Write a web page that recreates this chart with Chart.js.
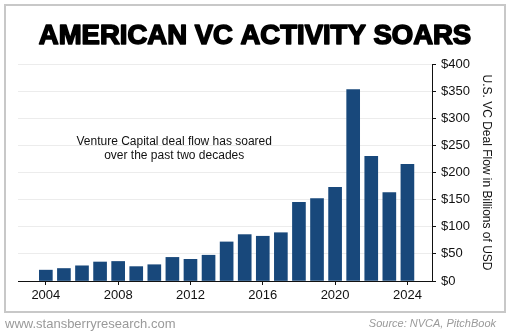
<!DOCTYPE html>
<html>
<head>
<meta charset="utf-8">
<script src="https://cdn.jsdelivr.net/npm/chart.js@4/dist/chart.umd.min.js"></script>
<style>
html,body{margin:0;padding:0;background:#fff;}
#wrap{width:511px;height:335px;position:relative;}
</style>
</head>
<body>
<div id="wrap"><canvas id="c"></canvas></div>
<script>
const titleText = 'AMERICAN VC ACTIVITY SOARS';
const years = [2004,2005,2006,2007,2008,2009,2010,2011,2012,2013,2014,2015,2016,2017,2018,2019,2020,2021,2022,2023,2024];
const dealFlow = [20,23,28,35,36,26.5,30,43.5,40,47.5,72,85.5,82.5,89,145,152,172.5,353,230,163,215];
const xTickYears = [2004,2008,2012,2016,2020,2024];
const yAxisTitle = 'U.S. VC Deal Flow in Billions of USD';
const noteLines = ['Venture Capital deal flow has soared','over the past two decades'];
const footerLeft = 'www.stansberryresearch.com';
const footerRight = 'Source: NVCA, PitchBook';

const FONT = "'Liberation Sans', Arial, sans-serif";

const decor = {
  id: 'decor',
  beforeDraw(chart) {
    const ctx = chart.ctx;
    ctx.save();
    ctx.fillStyle = '#fff';
    ctx.fillRect(0, 0, chart.width, chart.height);
    ctx.strokeStyle = '#c8c8c8';
    ctx.lineWidth = 2;
    ctx.strokeRect(5, 5, 500, 307);
    ctx.restore();
  },
  afterDraw(chart) {
    const ctx = chart.ctx;
    const xs = chart.scales.x, ys = chart.scales.y;
    ctx.save();
    // title (heavy)
    ctx.fillStyle = '#000';
    ctx.strokeStyle = '#000';
    ctx.lineWidth = 1.6;
    ctx.lineJoin = 'round';
    ctx.font = 'bold 27.5px ' + FONT;
    ctx.textAlign = 'center';
    ctx.textBaseline = 'alphabetic';
    ctx.fillText(titleText, 255, 44);
    ctx.strokeText(titleText, 255, 44);
    // note text
    ctx.fillStyle = '#111';
    ctx.font = '12px ' + FONT;
    ctx.textAlign = 'center';
    ctx.textBaseline = 'middle';
    const cx = xs.getPixelForValue(2011.1);
    ctx.fillText(noteLines[0], cx, ys.getPixelForValue(256));
    ctx.fillText(noteLines[1], cx, ys.getPixelForValue(231));
    // footer
    ctx.fillStyle = '#9a9a9a';
    ctx.font = '13px ' + FONT;
    ctx.textAlign = 'left';
    ctx.fillText(footerLeft, 5, 324);
    ctx.font = 'italic 11px ' + FONT;
    ctx.textAlign = 'right';
    ctx.fillText(footerRight, 496, 324);
    ctx.restore();
  }
};

new Chart(document.getElementById('c'), {
  type: 'bar',
  data: {
    datasets: [{
      data: years.map((y, i) => ({x: y, y: dealFlow[i]})),
      backgroundColor: '#18487b',
      borderWidth: 0,
      barThickness: 13
    }]
  },
  options: {
    responsive: true,
    maintainAspectRatio: false,
    animation: false,
    layout: {padding: {left: 18, right: 0, top: 64, bottom: 30}},
    plugins: {
      legend: {display: false},
      tooltip: {enabled: false},
      title: {display: false}
    },
    scales: {
      x: {
        type: 'linear',
        offset: false,
        min: 2002.46,
        max: 2025.36,
        afterBuildTicks: s => { s.ticks = xTickYears.map(v => ({value: v})); },
        afterFit: s => { s.height = 24; },
        ticks: {
          color: '#111',
          font: {family: FONT, size: 13},
          padding: 3,
          autoSkip: false,
          maxRotation: 0,
          callback: v => String(v)
        },
        grid: {offset: false, drawOnChartArea: false, tickLength: 4, tickColor: '#111'},
        border: {display: true, color: '#111', width: 1}
      },
      y: {
        position: 'right',
        min: 0,
        max: 400,
        afterFit: s => { s.width = 79; },
        ticks: {
          stepSize: 50,
          color: '#111',
          font: {family: FONT, size: 13},
          padding: 5,
          callback: v => '$' + v
        },
        grid: {color: '#ececec', tickLength: 4, tickColor: '#111'},
        border: {display: true, color: '#111', width: 1},
        title: {
          display: true,
          text: yAxisTitle,
          color: '#111',
          font: {family: FONT, size: 12},
          padding: {top: 17, bottom: 0}
        }
      }
    }
  },
  plugins: [decor]
});
</script>
</body>
</html>
